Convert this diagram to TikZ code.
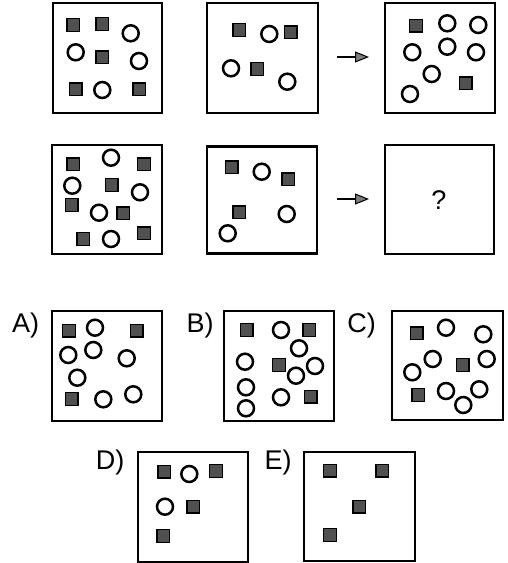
\documentclass[tikz,border=0pt]{standalone}
\usepackage{fontspec}
\setmainfont{Liberation Sans}
\usetikzlibrary{arrows.meta}
\definecolor{sqfill}{RGB}{80,80,80}
\definecolor{tipfill}{RGB}{125,125,125}
\tikzset{
  panel/.style={draw=black, line width=2.8pt, fill=white, minimum width=110pt, minimum height=110pt, inner sep=0pt, outer sep=0pt},
  sq/.style={draw=black, line width=1.2pt, fill=sqfill, minimum size=12.5pt, inner sep=0pt},
  ci/.style={circle, draw=black, line width=2.5pt, fill=white, minimum size=16pt, inner sep=0pt},
  lab/.style={font=\fontsize{27}{27}\selectfont, inner sep=0pt},
  qmark/.style={font=\fontsize{27}{27}\selectfont, inner sep=0pt},
  seqarrow/.style={line width=1.6pt, -{Triangle[length=14pt, width=11pt, fill=tipfill, line width=1pt]}},
}
\begin{document}
\begin{tikzpicture}[x=1pt, y=-1pt]
\useasboundingbox (0,0) rectangle (507,563);
% panels
\node[panel, minimum width=109pt] (p1) at (107.5,58) {};
\node[panel, minimum width=111pt] (p2) at (262.5,58) {};
\node[panel] (p3) at (440,58) {};
\node[panel, minimum height=109pt] (p4) at (107,199.5) {};
\node[panel, minimum height=107pt] (p5) at (262,200.3) {};
\node[panel, minimum width=109pt, minimum height=109pt] (p6) at (439.5,199.5) {};
\node[panel] (pa) at (107,366) {};
\node[panel] (pb) at (279,366) {};
\node[panel, minimum width=111pt, minimum height=109pt] (pc) at (447.5,365.5) {};
\node[panel] (pd) at (193,507) {};
\node[panel, minimum width=111pt, minimum height=109pt] (pe) at (359.5,506.5) {};
% question mark
\node[qmark] (q) at (439,200) {?};
% arrows
\coordinate (a1s) at (337,57);
\coordinate (a1e) at (369,57);
\draw[seqarrow] (a1s) -- (a1e);
\coordinate (a2s) at (337,199);
\coordinate (a2e) at (369,199);
\draw[seqarrow] (a2s) -- (a2e);
% labels
\node[lab] (la) at (25.7,326) {A)};
\node[lab] (lb) at (200,326) {B)};
\node[lab] (lc) at (361.7,326) {C)};
\node[lab] (ld) at (110,463) {D)};
\node[lab] (le) at (278,463) {E)};
% panel 1
\foreach \x/\y [count=\i] in {73.3/25, 102.3/24, 102.3/57.3, 75.7/89.3, 139.3/89.3}
  \node[sq] (s1-\i) at (\x,\y) {};
\foreach \x/\y [count=\i] in {130.7/33.3, 75.7/52.3, 139/61, 102.3/90}
  \node[ci] (c1-\i) at (\x,\y) {};
% panel 2
\foreach \x/\y [count=\i] in {239.3/30, 290.7/32.3, 257.3/69}
  \node[sq] (s2-\i) at (\x,\y) {};
\foreach \x/\y [count=\i] in {269.3/34, 231/68.3, 287.3/81.7}
  \node[ci] (c2-\i) at (\x,\y) {};
% panel 3
\foreach \x/\y [count=\i] in {416/25.7, 465.7/83.3}
  \node[sq] (s3-\i) at (\x,\y) {};
\foreach \x/\y [count=\i] in {447.3/23.3, 478.3/25, 412.3/52.3, 447.3/46.7, 476/52.3, 431.7/74, 410/94}
  \node[ci] (c3-\i) at (\x,\y) {};
% panel 4
\foreach \x/\y [count=\i] in {73.3/164.3, 144/164.3, 111.7/185, 71.7/205, 123.3/213.3, 83.3/239, 144/233.3}
  \node[sq] (s4-\i) at (\x,\y) {};
\foreach \x/\y [count=\i] in {111/157.7, 72.3/185.7, 140/192.3, 99/212.7, 111/239}
  \node[ci] (c4-\i) at (\x,\y) {};
% panel 5
\foreach \x/\y [count=\i] in {231.7/167.3, 288.3/179.3, 239.3/212.3}
  \node[sq] (s5-\i) at (\x,\y) {};
\foreach \x/\y [count=\i] in {261.7/171.7, 286.7/214, 227.7/233.3}
  \node[ci] (c5-\i) at (\x,\y) {};
% option A
\foreach \x/\y [count=\i] in {69/330.7, 136.7/330.7, 71.7/399}
  \node[sq] (sa-\i) at (\x,\y) {};
\foreach \x/\y [count=\i] in {95/327.7, 68.3/355, 93.3/350, 126.7/358.3, 77.3/377.7, 103.3/399.3, 133.3/394.3}
  \node[ci] (ca-\i) at (\x,\y) {};
% option B
\foreach \x/\y [count=\i] in {246.7/330, 309.3/330, 279/365, 310.7/396.7}
  \node[sq] (sb-\i) at (\x,\y) {};
\foreach \x/\y [count=\i] in {281/330, 299/348.3, 245/361.7, 315/366, 296/375.7, 246/387.3, 281/397.3, 246/408.3}
  \node[ci] (cb-\i) at (\x,\y) {};
% option C
\foreach \x/\y [count=\i] in {416.7/333.3, 462.7/365, 418.3/395}
  \node[sq] (sc-\i) at (\x,\y) {};
\foreach \x/\y [count=\i] in {446/327.7, 483.3/334.3, 432.7/359, 486.7/359, 412.3/372.3, 446/391, 479.3/389.3, 463.3/405}
  \node[ci] (cc-\i) at (\x,\y) {};
% option D
\foreach \x/\y [count=\i] in {164.3/471.7, 216/471, 193.3/506.7, 163.3/536}
  \node[sq] (sd-\i) at (\x,\y) {};
\foreach \x/\y [count=\i] in {189.3/474, 165/506.7}
  \node[ci] (cd-\i) at (\x,\y) {};
% option E
\foreach \x/\y [count=\i] in {330/470.7, 382.3/470.7, 359.3/506.7, 330/535}
  \node[sq] (se-\i) at (\x,\y) {};
\end{tikzpicture}
\end{document}
